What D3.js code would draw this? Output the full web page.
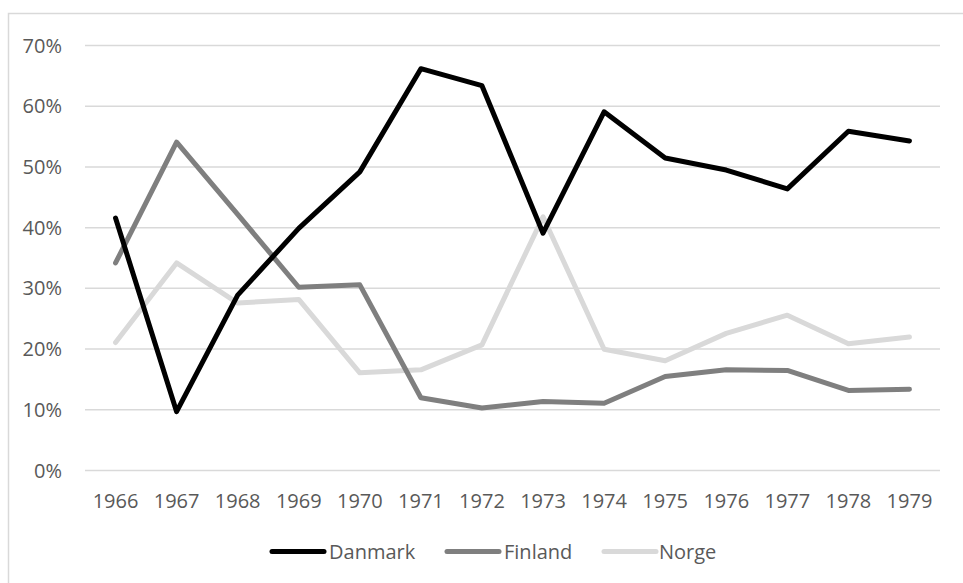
<!DOCTYPE html>
<html><head><meta charset="utf-8">
<script src="https://cdn.jsdelivr.net/npm/d3@7"></script>
<style>body{margin:0;background:#fff}svg{display:block}text{font-family:"Open Sans",sans-serif}</style>
</head><body><svg id="c" width="963" height="583"></svg>
<script>
const years = [1966,1967,1968,1969,1970,1971,1972,1973,1974,1975,1976,1977,1978,1979];
const danmark = [41.5,9.6,28.8,39.8,49.1,66.1,63.3,39.0,59.0,51.4,49.4,46.3,55.8,54.2];
const finland = [34.1,54.0,42.1,30.1,30.5,11.9,10.2,11.3,11.0,15.4,16.5,16.4,13.1,13.3];
const norge   = [21.0,34.1,27.5,28.1,16.0,16.5,20.6,41.7,19.9,18.0,22.5,25.5,20.8,21.9];
const yTicks = [0,10,20,30,40,50,60,70];
const seriesNames = ["Danmark","Finland","Norge"];
const seriesColors = ["#000000","#7f7f7f","#d9d9d9"];
const seriesData = [danmark, finland, norge];

const svg = d3.select("#c");
svg.append("rect").attr("x",8.5).attr("y",13.5).attr("width",1000).attr("height",1000)
  .attr("fill","none").attr("stroke","#d9d9d9").attr("stroke-width",1.5);

const x = d3.scaleBand().domain(years).range([85,940]);
const y = d3.scaleLinear().domain([0,70]).range([470,45]);

const gy = svg.append("g").attr("transform","translate(85,0)")
  .call(d3.axisLeft(y).tickValues(yTicks).tickSize(-855).tickFormat(d=>d+"%"));
gy.select(".domain").remove();
gy.selectAll(".tick line").attr("stroke","#d9d9d9").attr("stroke-width",1.5);
gy.selectAll(".tick text").attr("x",-23).attr("fill","#595959").style("font-size","20px").attr("dy","0.35em");

const gx = svg.append("g").attr("transform","translate(0,470)")
  .call(d3.axisBottom(x).tickSize(0).tickFormat(d=>d));
gx.select(".domain").remove();
gx.selectAll(".tick text").attr("y",31).attr("dy","0.35em").attr("fill","#595959").style("font-size","20px");

const line = d3.line().x((d,i)=>x(years[i])+x.bandwidth()/2).y(d=>y(d));
[2,1,0].forEach(k=>{
  svg.append("path").datum(seriesData[k]).attr("d",line).attr("fill","none")
    .attr("stroke",seriesColors[k]).attr("stroke-width",5)
    .attr("stroke-linejoin","round").attr("stroke-linecap","round");
});

const legX = [270,445,602];
seriesNames.forEach((n,k)=>{
  const g = svg.append("g").attr("transform",`translate(${legX[k]},551.5)`);
  g.append("line").attr("x1",2).attr("x2",54).attr("stroke",seriesColors[k])
    .attr("stroke-width",5).attr("stroke-linecap","round");
  g.append("text").attr("x",k===2?57:59).attr("dy","0.35em").attr("fill","#595959")
    .style("font-size","20px").text(n);
});
</script></body></html>
